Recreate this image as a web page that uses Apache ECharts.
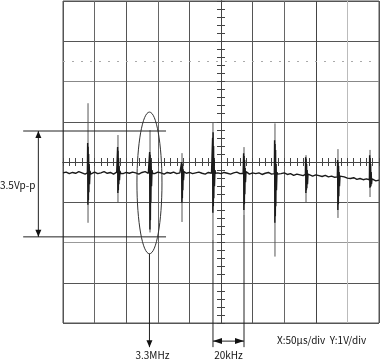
<!DOCTYPE html>
<html><head><meta charset="utf-8">
<script src="https://cdn.jsdelivr.net/npm/echarts@6/dist/echarts.min.js"></script>
<style>html,body{margin:0;padding:0;background:#fff}#c{width:380px;height:360px}</style>
</head><body><div id="c"></div>
<script>
// time axis in µs (centre of screen = 0), voltage in V
const timeRange = [-250, 250];
const voltRange = [-4, 4];
const baseT0 = -250, baseStep = 5;
const baseline = [
 -0.27,-0.25,-0.29,-0.26,-0.28,-0.24,-0.27,-0.30,-0.26,-0.28,-0.25,
 -0.29,-0.27,-0.24,-0.28,-0.26,-0.30,-0.25,-0.27,-0.29,-0.26,
 -0.28,-0.25,-0.27,-0.30,-0.26,-0.24,-0.28,-0.27,-0.29,-0.25,
 -0.27,-0.30,-0.26,-0.28,-0.25,-0.29,-0.27,-0.24,-0.28,-0.26,
 -0.29,-0.27,-0.25,-0.28,-0.30,-0.26,-0.28,-0.24,-0.27,-0.29,
 -0.26,-0.28,-0.30,-0.27,-0.25,-0.29,-0.28,-0.26,-0.30,-0.27,
 -0.29,-0.27,-0.31,-0.28,-0.26,-0.30,-0.28,-0.31,-0.29,-0.27,
 -0.31,-0.29,-0.33,-0.30,-0.32,-0.34,-0.31,-0.33,-0.35,-0.32,
 -0.34,-0.36,-0.33,-0.37,-0.35,-0.38,-0.36,-0.39,-0.37,-0.40,
 -0.41,-0.39,-0.43,-0.41,-0.44,-0.42,-0.46,-0.44,-0.47,-0.45
];
const spikeTimes = [-210.4,-163.0,-112.3,-61.7,-12.7,36.4,85.4,134.5,185.1,235.8];
const peakHigh = [1.46,0.67,0.79,0.22,0.99,0.37,0.96,0.17,0.32,0.30];
const peakLow  = [-1.51,-1.01,-1.75,-1.49,-1.93,-1.31,-2.35,-1.00,-1.39,-0.87];
const spikeBodies = [
 [[-211.4,-0.27],[-211.0,0.47],[-210.6,-1.06],[-210.2,0.38],[-209.8,-0.95],[-209.4,0.20],[-209.0,-0.75],[-208.5,-0.05],[-208.0,-0.55],[-207.2,-0.22],[-206.4,-0.30]],
 [[-164.0,-0.27],[-163.6,0.37],[-163.2,-0.77],[-162.8,0.28],[-162.4,-0.70],[-162.0,0.10],[-161.6,-0.55],[-161.1,-0.10],[-160.6,-0.45],[-159.8,-0.22],[-159.0,-0.28]],
 [[-113.3,-0.28],[-112.9,0.25],[-112.5,-1.68],[-112.1,0.18],[-111.7,-1.45],[-111.3,0.05],[-110.9,-1.00],[-110.4,-0.10],[-109.9,-0.60],[-109.1,-0.20],[-108.3,-0.28]],
 [[-62.7,-0.27],[-62.3,0.00],[-61.9,-1.01],[-61.5,-0.05],[-61.1,-0.90],[-60.7,-0.10],[-60.3,-0.70],[-59.8,-0.18],[-59.3,-0.45],[-58.5,-0.24],[-57.7,-0.28]],
 [[-13.7,-0.28],[-13.3,0.60],[-12.9,-1.26],[-12.5,0.74],[-12.1,-1.10],[-11.7,0.40],[-11.3,-0.90],[-10.8,0.05],[-10.3,-0.60],[-9.5,-0.20],[-8.7,-0.28]],
 [[35.4,-0.27],[35.8,0.22],[36.2,-1.19],[36.6,0.15],[37.0,-1.05],[37.4,0.05],[37.8,-0.80],[38.3,-0.15],[38.8,-0.50],[39.6,-0.24],[40.4,-0.28]],
 [[84.4,-0.29],[84.8,0.54],[85.2,-1.51],[85.6,0.45],[86.0,-1.35],[86.4,0.30],[86.8,-1.10],[87.3,-0.05],[87.8,-0.70],[88.6,-0.25],[89.4,-0.30]],
 [[133.5,-0.31],[133.9,0.12],[134.3,-0.77],[134.7,0.08],[135.1,-0.70],[135.5,-0.05],[135.9,-0.65],[136.4,-0.20],[136.9,-0.55],[137.7,-0.30],[138.5,-0.33]],
 [[184.1,-0.37],[184.5,0.05],[184.9,-1.19],[185.3,0.00],[185.7,-1.05],[186.1,-0.10],[186.5,-0.85],[187.0,-0.25],[187.5,-0.60],[188.3,-0.35],[189.1,-0.38]],
 [[234.8,-0.44],[235.2,0.17],[235.6,-0.64],[236.0,0.10],[236.4,-0.62],[236.8,-0.05],[237.2,-0.60],[237.7,-0.25],[238.2,-0.55],[239.0,-0.42],[239.8,-0.46]]
];
const dottedLevel = 2.5;
// annotations (data units)
const ppLevels = [0.77, -1.86];
const ppLineRange = [-313, -87];
const ppArrowT = -289;
const ringEllipse = {t: -113.2, v: -0.52, rt: 19.8, rv: 1.76};
const markerBottom = -4.6;
const khzArrowV = -4.45;
const khzStartV = [-1.93, -1.31];
const labelPP = '3.5Vp-p';
const labelMHz = '3.3MHz';
const labelKHz = '20kHz';
const labelScale = 'X:50µs/div  Y:1V/div';

const vColors = ['#555','#666','#555','#666','#555','#444','#555','#666','#444','#bbb','#555'];
const hColors = ['#555','#555','#999','#555','#444','#555','#888','#555','#555'];

// build trace
const trace = [];
const windows = spikeBodies.map(b => [b[0][0], b[b.length-1][0]]);
baseline.forEach((v, i) => {
  const t = baseT0 + i * baseStep;
  if (!windows.some(w => t >= w[0] && t <= w[1])) trace.push([t, v]);
});
spikeBodies.forEach(b => b.forEach(p => trace.push(p)));
trace.sort((a, b) => a[0] - b[0]);
const tips = [];
spikeTimes.forEach((t, i) => { tips.push([t, peakHigh[i]], [t, peakLow[i]], [t, '-']); });

const FONT = '"Noto Sans CJK JP", "Noto Sans", sans-serif';
const chart = echarts.init(document.getElementById('c'));
const hiddenAxis = {axisLine:{show:false,onZero:false}, axisTick:{show:false}, axisLabel:{show:false}};
const tickAxis = (pos, interval) => ({
  type:'value', position: pos, min: null, max: null, interval: interval,
  axisLine:{show:true, onZero:true, onZeroAxisIndex:0, lineStyle:{color:'#444', width:1}},
  axisTick:{show:true, length:4, lineStyle:{color:'#444', width:1}},
  axisLabel:{show:false}, splitLine:{show:false}
});
const xt1 = tickAxis('bottom', 10), xt2 = tickAxis('top', 10);
const yt1 = tickAxis('left', 0.2), yt2 = tickAxis('right', 0.2);
[xt1, xt2].forEach(a => { a.min = timeRange[0]; a.max = timeRange[1]; });
[yt1, yt2].forEach(a => { a.min = voltRange[0]; a.max = voltRange[1]; });

chart.setOption({
  animation: false,
  backgroundColor: '#fff',
  grid: {left: 63, right: 1, top: 1, bottom: 37, show: true, borderColor: '#555', borderWidth: 1},
  xAxis: [
    Object.assign({type:'value', min: timeRange[0], max: timeRange[1], interval: 50,
      splitLine:{show:true, lineStyle:{color: vColors, width: 1}}}, hiddenAxis),
    xt1, xt2
  ],
  yAxis: [
    Object.assign({type:'value', min: voltRange[0], max: voltRange[1], interval: 1,
      splitLine:{show:true, lineStyle:{color: hColors, width: 1}}}, hiddenAxis),
    yt1, yt2
  ],
  series: [
    {type:'line', name:'tips', data: tips, symbol:'none', connectNulls:false,
     lineStyle:{color:'#555', width:1}, z: 3,
     markLine: {silent:true, symbol:'none', label:{show:false},
       lineStyle:{color:'#aaa', type:[2,7], width:1}, data:[{yAxis: dottedLevel}]}},
    {type:'line', name:'trace', data: trace, symbol:'none', sampling: null,
     lineStyle:{color:'#1a1a1a', width:1.4}, z: 4}
  ]
});

const P = (t, v) => chart.convertToPixel({xAxisIndex:0, yAxisIndex:0}, [t, v]);
const stroke = {stroke:'#222', lineWidth:1};
const g = [];
const line = (a, b) => g.push({type:'line', shape:{x1:a[0], y1:a[1], x2:b[0], y2:b[1]}, style: stroke, z: 10});
const head = (tip, dir) => {
  const [x, y] = tip, L = 7, W = 3;
  let pts;
  if (dir === 'up') pts = [[x, y], [x - W, y + L], [x + W, y + L]];
  else if (dir === 'down') pts = [[x, y], [x - W, y - L], [x + W, y - L]];
  else if (dir === 'left') pts = [[x, y], [x + L + 2, y - W], [x + L + 2, y + W]];
  else pts = [[x, y], [x - L - 2, y - W], [x - L - 2, y + W]];
  g.push({type:'polygon', shape:{points: pts}, style:{fill:'#111'}, z: 10});
};
// Vp-p bracket
const ppTop = P(ppArrowT, ppLevels[0]), ppBot = P(ppArrowT, ppLevels[1]);
line(P(ppLineRange[0], ppLevels[0]), P(ppLineRange[1], ppLevels[0]));
line(P(ppLineRange[0], ppLevels[1]), P(ppLineRange[1], ppLevels[1]));
line(ppTop, ppBot);
head(ppTop, 'up'); head(ppBot, 'down');
// ellipse
const ec = P(ringEllipse.t, ringEllipse.v);
const erx = P(ringEllipse.t + ringEllipse.rt, ringEllipse.v)[0] - ec[0];
const ery = ec[1] - P(ringEllipse.t, ringEllipse.v + ringEllipse.rv)[1];
g.push({type:'ellipse', shape:{cx: ec[0], cy: ec[1], rx: erx, ry: ery}, style:{fill:'none', stroke:'#333', lineWidth:1}, z: 10});
const mTip = P(ringEllipse.t, markerBottom);
line([ec[0], ec[1] + ery], mTip);
head(mTip, 'down');
// 20 kHz marker
const k1a = P(spikeTimes[4], khzStartV[0]), k1b = P(spikeTimes[4], markerBottom);
const k2a = P(spikeTimes[5], khzStartV[1]), k2b = P(spikeTimes[5], markerBottom);
line(k1a, k1b); line(k2a, k2b);
const ka = P(spikeTimes[4], khzArrowV), kb = P(spikeTimes[5], khzArrowV);
line(ka, kb); head(ka, 'left'); head(kb, 'right');
// texts
const txt = (s, x, y, align) => g.push({type:'text', z: 10, style:{text: s, x: x, y: y, align: align,
  verticalAlign:'middle', font: '10px ' + FONT, fill:'#111'}});
txt(labelPP, 0, ppTop[1] + (ppBot[1] - ppTop[1]) / 2 + 1, 'left');
txt(labelMHz, mTip[0] + 3, mTip[1] + 8, 'center');
txt(labelKHz, (ka[0] + kb[0]) / 2, mTip[1] + 8, 'center');
txt(labelScale, 277, 340, 'left');
chart.setOption({graphic: g});
</script></body></html>
